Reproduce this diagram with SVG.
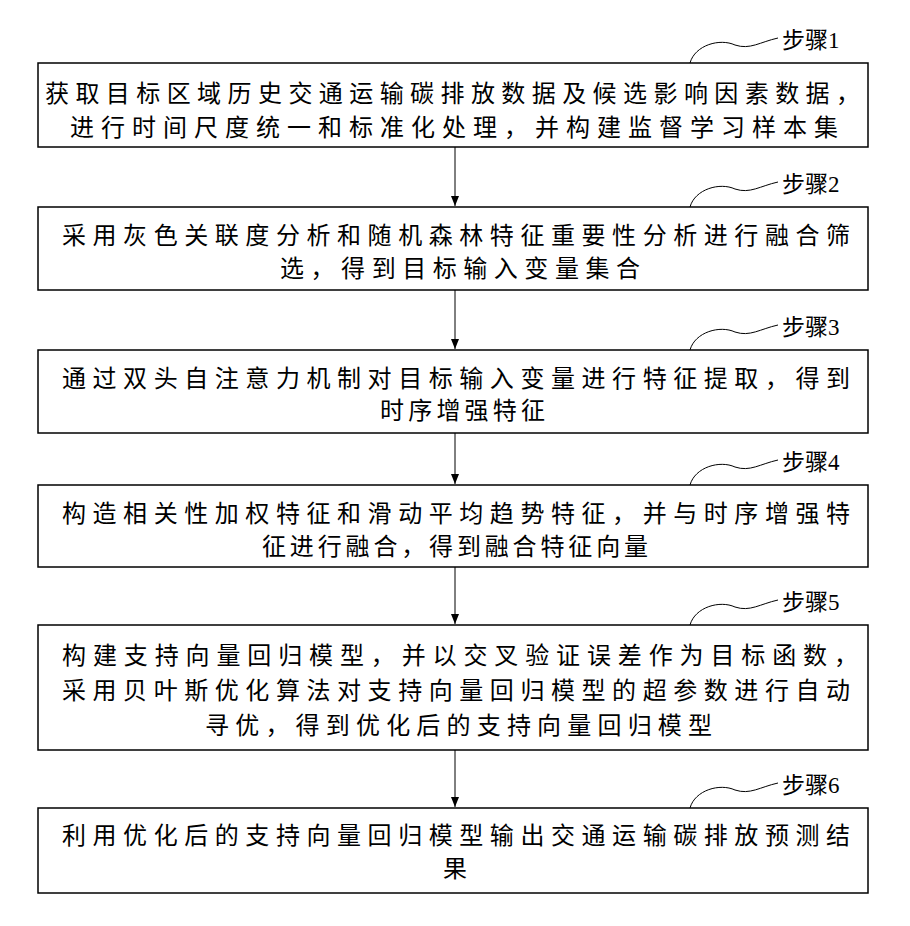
<svg xmlns="http://www.w3.org/2000/svg" width="910" height="926" viewBox="0 0 910 926">
<style>
.b{fill:#fff;stroke:#000;stroke-width:1.5}
.t{font-family:"Liberation Serif","Noto Sans CJK SC",serif;font-size:24px;fill:#000}
.l{font-family:"Liberation Serif","Noto Sans CJK SC",serif;font-size:23px;fill:#000}
.c{fill:none;stroke:#000;stroke-width:1}
</style>
<defs><marker id="a" markerWidth="12" markerHeight="10" refX="10" refY="5" orient="auto" markerUnits="userSpaceOnUse"><path d="M0,1 L10,5 L0,9 Z" fill="#000"/></marker></defs>
<rect width="910" height="926" fill="#fff"/>
<g id="connectors">
<line class="c" x1="455" y1="147" x2="455" y2="206" marker-end="url(#a)"/>
<line class="c" x1="455" y1="290" x2="455" y2="349" marker-end="url(#a)"/>
<line class="c" x1="455" y1="433" x2="455" y2="484" marker-end="url(#a)"/>
<line class="c" x1="455" y1="567" x2="455" y2="624" marker-end="url(#a)"/>
<line class="c" x1="455" y1="750" x2="455" y2="807" marker-end="url(#a)"/>
<path class="c" d="M690,63 C695,45 720,38 735,45 C750,50 760,42 778,38"/>
<path class="c" d="M690,207 C695,189 720,182 735,189 C750,194 760,186 778,182"/>
<path class="c" d="M690,350 C695,332 720,325 735,332 C750,337 760,329 778,325"/>
<path class="c" d="M690,485 C695,467 720,460 735,467 C750,472 760,464 778,460"/>
<path class="c" d="M690,625 C695,607 720,600 735,607 C750,612 760,604 778,600"/>
<path class="c" d="M690,808 C695,790 720,783 735,790 C750,795 760,787 778,783"/>
</g>
<g id="step1"><rect class="b" x="38" y="63" width="830" height="84"/>
<text class="l" x="782" y="48">步骤1</text>
<text class="t" x="45" y="102" textLength="815" lengthAdjust="spacing">获取目标区域历史交通运输碳排放数据及候选影响因素数据，</text>
<text class="t" x="70" y="136" textLength="768" lengthAdjust="spacing">进行时间尺度统一和标准化处理，并构建监督学习样本集</text></g>
<g id="step2"><rect class="b" x="38" y="207" width="830" height="83"/>
<text class="l" x="782" y="192">步骤2</text>
<text class="t" x="62" y="244" textLength="788" lengthAdjust="spacing">采用灰色关联度分析和随机森林特征重要性分析进行融合筛</text>
<text class="t" x="280" y="277" textLength="360" lengthAdjust="spacing">选，得到目标输入变量集合</text></g>
<g id="step3"><rect class="b" x="38" y="350" width="830" height="83"/>
<text class="l" x="782" y="335">步骤3</text>
<text class="t" x="62" y="387" textLength="788" lengthAdjust="spacing">通过双头自注意力机制对目标输入变量进行特征提取，得到</text>
<text class="t" x="380" y="419" textLength="165" lengthAdjust="spacing">时序增强特征</text></g>
<g id="step4"><rect class="b" x="38" y="485" width="830" height="82"/>
<text class="l" x="782" y="470">步骤4</text>
<text class="t" x="62" y="522" textLength="788" lengthAdjust="spacing">构造相关性加权特征和滑动平均趋势特征，并与时序增强特</text>
<text class="t" x="262" y="555" textLength="386" lengthAdjust="spacing">征进行融合，得到融合特征向量</text></g>
<g id="step5"><rect class="b" x="38" y="625" width="830" height="125"/>
<text class="l" x="782" y="610">步骤5</text>
<text class="t" x="62" y="664" textLength="796" lengthAdjust="spacing">构建支持向量回归模型，并以交叉验证误差作为目标函数，</text>
<text class="t" x="62" y="699" textLength="788" lengthAdjust="spacing">采用贝叶斯优化算法对支持向量回归模型的超参数进行自动</text>
<text class="t" x="205" y="734" textLength="507" lengthAdjust="spacing">寻优，得到优化后的支持向量回归模型</text></g>
<g id="step6"><rect class="b" x="38" y="808" width="830" height="85"/>
<text class="l" x="782" y="793">步骤6</text>
<text class="t" x="62" y="844" textLength="788" lengthAdjust="spacing">利用优化后的支持向量回归模型输出交通运输碳排放预测结</text>
<text class="t" x="455" y="877" text-anchor="middle">果</text></g>
</svg>
